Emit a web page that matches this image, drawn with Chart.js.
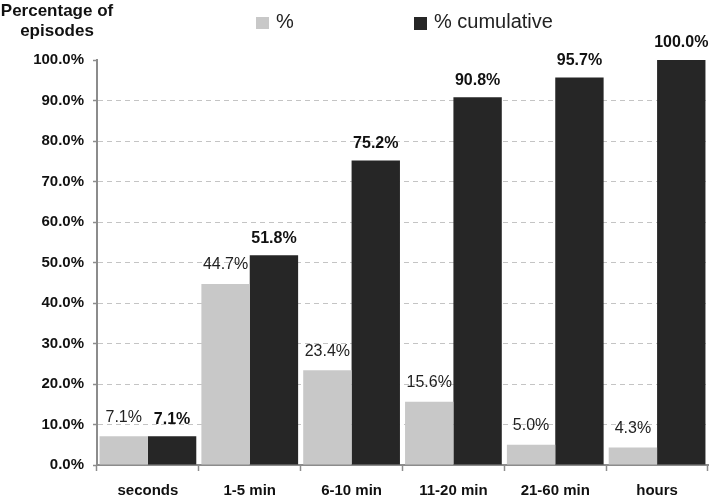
<!DOCTYPE html>
<html>
<head>
<meta charset="utf-8">
<script src="https://cdn.jsdelivr.net/npm/chart.js@4/dist/chart.umd.min.js"></script>
<style>
  html, body { margin: 0; padding: 0; background: #fff; }
  #wrap { width: 714px; height: 497px; position: relative; }
</style>
</head>
<body>
<div id="wrap"><canvas id="c" width="714" height="497"></canvas></div>
<script>
const categories = ['seconds', '1-5 min', '6-10 min', '11-20 min', '21-60 min', 'hours'];
const percentValues = [7.1, 44.7, 23.4, 15.6, 5.0, 4.3];
const cumulativeValues = [7.1, 51.8, 75.2, 90.8, 95.7, 100.0];
const seriesNames = ['%', '% cumulative'];
const yTitleLines = ['Percentage of', 'episodes'];

const FONT = '"Liberation Sans", Arial, Helvetica, sans-serif';
const GRAY = '#c8c8c8';
const DARK = '#262626';
const AXIS = '#8c8c8c';

const decorPlugin = {
  id: 'decor',
  afterDatasetsDraw(chart) {
    const ctx = chart.ctx;
    ctx.save();
    ctx.textAlign = 'center';
    ctx.textBaseline = 'middle';
    chart.data.datasets.forEach((ds, di) => {
      const meta = chart.getDatasetMeta(di);
      ctx.font = (di === 0 ? 'normal 16px ' : 'bold 16px ') + FONT;
      ctx.fillStyle = di === 0 ? '#222' : '#111';
      meta.data.forEach((el, i) => {
        const v = ds.data[i];
        ctx.fillText(v.toFixed(1) + '%', el.x, el.y - (di === 0 ? 19 : 17));
      });
    });
    ctx.restore();
  },
  afterDraw(chart) {
    const ctx = chart.ctx;
    ctx.save();
    // y title
    ctx.font = 'bold 17px ' + FONT;
    ctx.fillStyle = '#111';
    ctx.textAlign = 'center';
    ctx.textBaseline = 'middle';
    ctx.fillText(yTitleLines[0], 57, 11);
    ctx.fillText(yTitleLines[1], 57, 31);
    // legend
    ctx.textAlign = 'left';
    ctx.font = 'normal 20px ' + FONT;
    ctx.fillStyle = GRAY;
    ctx.fillRect(256, 17, 13, 12);
    ctx.fillStyle = '#222';
    ctx.fillText(seriesNames[0], 276, 22);
    ctx.fillStyle = DARK;
    ctx.fillRect(414, 17, 13, 13);
    ctx.fillStyle = '#222';
    ctx.fillText(seriesNames[1], 434, 22);
    ctx.restore();
  }
};

new Chart(document.getElementById('c'), {
  type: 'bar',
  data: {
    labels: categories,
    datasets: [
      { label: seriesNames[0], data: percentValues, backgroundColor: GRAY },
      { label: seriesNames[1], data: cumulativeValues, backgroundColor: DARK }
    ]
  },
  options: {
    responsive: false,
    animation: false,
    devicePixelRatio: 1,
    categoryPercentage: 0.95,
    barPercentage: 1.0,
    layout: { padding: { top: 60, right: 6, left: 0, bottom: 0 } },
    plugins: { legend: { display: false }, tooltip: { enabled: false }, title: { display: false } },
    scales: {
      x: {
        offset: true,
        grid: { offset: true, drawOnChartArea: false, tickLength: 6, tickColor: AXIS, tickWidth: 1.5 },
        border: { display: true, color: AXIS, width: 2 },
        ticks: { color: '#111', font: { family: FONT, size: 15, weight: 'bold' }, padding: 11, maxRotation: 0 },
        afterFit(scale) { scale.height = 32; }
      },
      y: {
        min: 0, max: 100,
        grid: {
          color: (c) => (c.tick && (c.tick.value === 0 || c.tick.value === 100)) ? 'rgba(0,0,0,0)' : '#c4c4c4',
          lineWidth: 1,
          tickLength: 4, tickColor: AXIS, tickWidth: 1.5, tickBorderDash: []
        },
        border: { display: true, color: AXIS, width: 2, dash: [5, 4] },
        ticks: {
          stepSize: 10,
          color: '#111',
          font: { family: FONT, size: 15, weight: 'bold' },
          padding: 9,
          callback: (v) => Number(v).toFixed(1) + '%'
        },
        afterFit(scale) { scale.width = 97; }
      }
    }
  },
  plugins: [decorPlugin]
});
</script>
</body>
</html>
